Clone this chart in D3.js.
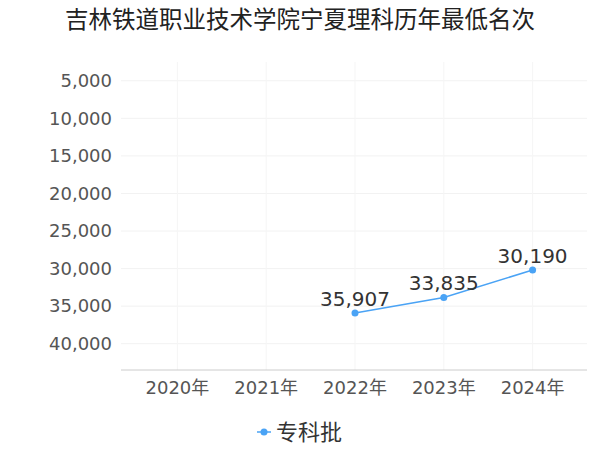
<!DOCTYPE html>
<html><head><meta charset="utf-8">
<script src="https://cdn.jsdelivr.net/npm/d3@7"></script>
<style>body{margin:0;background:#fff;font-family:"DejaVu Sans","Noto Sans CJK SC",sans-serif;}</style>
</head><body>
<svg id="chart" width="600" height="450"></svg>
<script>
// chart data
const years = ["2020年", "2021年", "2022年", "2023年", "2024年"];
const ranks = [null, null, 35907, 33835, 30190];
const yTicks = [5000, 10000, 15000, 20000, 25000, 30000, 35000, 40000];
const seriesName = "专科批";

const svg = d3.select("#chart");
const color = "#4aa3f5";
const font = "'DejaVu Sans','Noto Sans CJK SC',sans-serif";

const x = d3.scaleBand().domain(years).range([133, 577]);
const y = d3.scaleLinear().domain([2500, 43500]).range([62, 370]);

svg.append("text").attr("x", 300).attr("y", 28).attr("text-anchor", "middle")
  .attr("font-family", "Noto Sans CJK SC")
  .attr("font-size", 23.5).attr("fill", "#222").text("吉林铁道职业技术学院宁夏理科历年最低名次");

// grid
svg.append("g").selectAll("line").data(yTicks).join("line")
  .attr("x1", 121).attr("x2", 587).attr("y1", d => y(d)).attr("y2", d => y(d))
  .attr("stroke", "#f2f2f2");
svg.append("g").selectAll("line").data(years).join("line")
  .attr("x1", d => x(d) + x.bandwidth() / 2).attr("x2", d => x(d) + x.bandwidth() / 2)
  .attr("y1", 62).attr("y2", 370).attr("stroke", "#f5f5f5");

// y labels
const yAxis = svg.append("g").attr("transform", "translate(121,0)")
  .call(d3.axisLeft(y).tickValues(yTicks).tickSize(0).tickPadding(9).tickFormat(d3.format(",")));
yAxis.select(".domain").remove();
yAxis.selectAll("text").attr("font-size", 18).attr("fill", "#555").attr("font-family", font);

// x axis
const xAxis = svg.append("g").attr("transform", "translate(0,370)")
  .call(d3.axisBottom(x).tickSize(0).tickPadding(11));
xAxis.select(".domain").attr("d", "M121,0H587").attr("stroke", "#ccc");
xAxis.selectAll("text").attr("font-size", 18).attr("fill", "#555").attr("font-family", font);

const pts = years.map((d, i) => ({ year: d, v: ranks[i] })).filter(p => p.v != null);
const cx = d => x(d.year) + x.bandwidth() / 2;

svg.append("path").datum(pts)
  .attr("d", d3.line().x(cx).y(d => y(d.v)))
  .attr("fill", "none").attr("stroke", color).attr("stroke-width", 1.5);
svg.append("g").selectAll("circle").data(pts).join("circle")
  .attr("cx", cx).attr("cy", d => y(d.v)).attr("r", 3.5).attr("fill", color);
svg.append("g").selectAll("text").data(pts).join("text")
  .attr("x", cx).attr("y", d => y(d.v) - 7).attr("text-anchor", "middle")
  .attr("font-family", font)
  .attr("font-size", 20).attr("fill", "#333").text(d => d3.format(",")(d.v));

// legend
const lg = svg.append("g").attr("transform", "translate(257,432)");
lg.append("line").attr("x1", 0).attr("x2", 14).attr("stroke", color).attr("stroke-width", 1.5);
lg.append("circle").attr("cx", 7).attr("r", 3.5).attr("fill", color);
lg.append("text").attr("x", 19).attr("y", 8).attr("font-size", 22).attr("fill", "#333")
  .attr("font-family", "Noto Sans CJK SC").text(seriesName);
</script>
</body></html>
